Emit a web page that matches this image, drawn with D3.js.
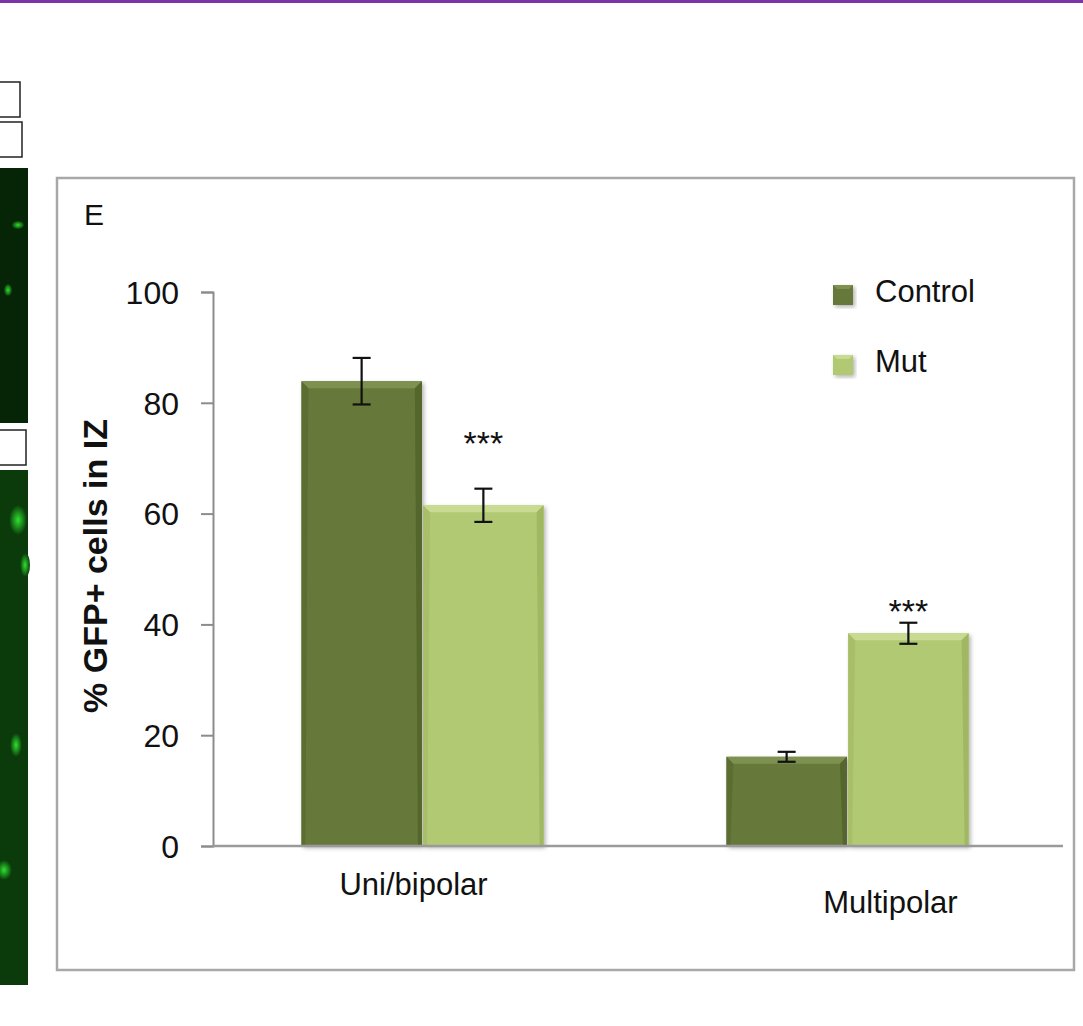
<!DOCTYPE html>
<html>
<head>
<meta charset="utf-8">
<script src="https://cdn.jsdelivr.net/npm/d3@7"></script>
<style>
  html, body { margin: 0; padding: 0; background: #fff; }
  svg { display: block; font-family: "Liberation Sans", Arial, Helvetica, sans-serif; }
  .tick text { font-size: 32px; fill: #111; }
</style>
</head>
<body>
<svg id="chart" width="1083" height="1026"></svg>
<script>
"use strict";

/* ── Data ─────────────────────────────────────────── */
const categories = ["Uni/bipolar", "Multipolar"];
const seriesNames = ["Control", "Mut"];
const controlValues = [83.9, 16.1];
const controlErrors = [4.2, 0.9];
const mutValues = [61.5, 38.4];
const mutErrors = [3.0, 1.9];
const yTicks = [0, 20, 40, 60, 80, 100];
const sigLabels = ["***", "***"];      // Mut vs Control
const sigLevels = [74.2, 43.9];         // value where the stars sit

/* ── Layout ───────────────────────────────────────── */
const W = 1083, H = 1026;
const PLOT = { left: 213, right: 1063, top: 292, bottom: 846 };
const COLORS = {
  Control: { base: "#66793a", light: "#7f9150", dark: "#55662d" },
  Mut:     { base: "#b2c973", light: "#c9db93", dark: "#a1b862" },
};

const svg = d3.select("#chart");
const defs = svg.append("defs");

defs.append("filter").attr("id", "shadow")
  .attr("x", "-10%").attr("y", "-10%").attr("width", "130%").attr("height", "130%")
  .append("feDropShadow")
  .attr("dx", 2).attr("dy", 2).attr("stdDeviation", 2)
  .attr("flood-color", "#000").attr("flood-opacity", 0.3);

/* ── Page decoration (slide edges) ───────────────── */
svg.append("rect").attr("x", 0).attr("y", 0).attr("width", W).attr("height", 3)
  .attr("fill", "#7a35a6");

const side = svg.append("g").attr("class", "side");
const glow = defs.append("radialGradient").attr("id", "glow");
glow.append("stop").attr("offset", "0%").attr("stop-color", "#2fe02f");
glow.append("stop").attr("offset", "100%").attr("stop-color", "#0a3a0a");
side.append("rect").attr("x", -2).attr("y", 82).attr("width", 22).attr("height", 35)
  .attr("fill", "#fff").attr("stroke", "#222").attr("stroke-width", 1.5);
side.append("rect").attr("x", -2).attr("y", 122).attr("width", 24).attr("height", 35)
  .attr("fill", "#fff").attr("stroke", "#222").attr("stroke-width", 1.5);
side.append("rect").attr("x", 0).attr("y", 168).attr("width", 28).attr("height", 255)
  .attr("fill", "#062506");
side.append("rect").attr("x", -2).attr("y", 430).attr("width", 28).attr("height", 35)
  .attr("fill", "#fff").attr("stroke", "#222").attr("stroke-width", 1.5);
side.append("rect").attr("x", 0).attr("y", 470).attr("width", 28).attr("height", 515)
  .attr("fill", "#0b3a0b");
[[18, 520, 9, 15], [25, 565, 5, 12], [16, 745, 6, 12], [4, 870, 8, 10], [8, 290, 4, 6], [18, 225, 6, 4]]
  .forEach(([cx, cy, rx, ry]) => {
    side.append("ellipse").attr("cx", cx).attr("cy", cy).attr("rx", rx).attr("ry", ry)
      .attr("fill", "url(#glow)");
  });

/* ── Chart frame ──────────────────────────────────── */
svg.append("rect")
  .attr("x", 57).attr("y", 178).attr("width", 1017).attr("height", 792)
  .attr("fill", "#fff").attr("stroke", "#a8a8a8").attr("stroke-width", 2.5);

svg.append("text").attr("x", 84).attr("y", 225)
  .attr("font-size", 30).attr("fill", "#111").text("E");

/* ── Scales ──────────────────────────────────────── */
const x0 = d3.scaleBand().domain(categories)
  .range([PLOT.left, PLOT.right]).paddingInner(0.43).paddingOuter(0.215);
const x1 = d3.scaleBand().domain(seriesNames)
  .range([0, x0.bandwidth()]).paddingInner(0.01);
const y = d3.scaleLinear().domain([0, 100]).range([PLOT.bottom, PLOT.top]);

/* ── Axes ────────────────────────────────────────── */
const yAxis = svg.append("g").attr("transform", `translate(${PLOT.left},0)`)
  .call(d3.axisLeft(y).tickValues(yTicks).tickSize(12).tickPadding(22));
yAxis.select(".domain").attr("stroke", "#8c8c8c").attr("stroke-width", 2);
yAxis.selectAll(".tick line").attr("stroke", "#8c8c8c").attr("stroke-width", 2);
yAxis.selectAll(".tick text").attr("dy", "0.35em");

svg.append("text")
  .attr("transform", `translate(107,${(PLOT.top + PLOT.bottom) / 2 - 3}) rotate(-90)`)
  .attr("text-anchor", "middle")
  .attr("font-size", 34).attr("font-weight", "bold").attr("fill", "#111")
  .text("% GFP+ cells in IZ");

/* ── Bars ────────────────────────────────────────── */
const rows = categories.map((c, i) => ({
  cat: c,
  items: [
    { s: "Control", v: controlValues[i], e: controlErrors[i] },
    { s: "Mut", v: mutValues[i], e: mutErrors[i] },
  ],
  sig: sigLabels[i], sigY: sigLevels[i],
}));

const groups = svg.append("g").selectAll("g.grp").data(rows).join("g")
  .attr("class", "grp")
  .attr("transform", (d) => `translate(${x0(d.cat) - 3},0)`);

const bar = groups.selectAll("g.bar").data((d) => d.items).join("g").attr("class", "bar");
const bw = x1.bandwidth();
const bev = 7;

bar.append("rect")
  .attr("x", (d) => x1(d.s)).attr("y", (d) => y(d.v))
  .attr("width", bw).attr("height", (d) => y(0) - y(d.v))
  .attr("fill", (d) => COLORS[d.s].base)
  .attr("filter", "url(#shadow)");
// bevel: top highlight, side shading
bar.append("path")
  .attr("fill", (d) => COLORS[d.s].light)
  .attr("d", (d) => {
    const xl = x1(d.s), xr = xl + bw, yt = y(d.v);
    return `M${xl},${yt}L${xr},${yt}L${xr - bev},${yt + bev}L${xl + bev},${yt + bev}Z`;
  });
bar.append("path")
  .attr("fill", (d) => COLORS[d.s].dark)
  .attr("d", (d) => {
    const xl = x1(d.s), xr = xl + bw, yt = y(d.v), yb = y(0);
    return `M${xr},${yt}L${xr},${yb}L${xr - 4},${yb}L${xr - bev},${yt + bev}Z`;
  });
bar.append("path")
  .attr("fill", (d) => COLORS[d.s].dark).attr("opacity", 0.6)
  .attr("d", (d) => {
    const xl = x1(d.s), yt = y(d.v), yb = y(0);
    return `M${xl},${yt}L${xl + bev},${yt + bev}L${xl + 4},${yb}L${xl},${yb}Z`;
  });

/* ── Error bars ──────────────────────────────────── */
const cap = 9;
const err = bar.append("g").attr("stroke", "#111").attr("stroke-width", 2.2);
err.append("line")
  .attr("x1", (d) => x1(d.s) + bw / 2).attr("x2", (d) => x1(d.s) + bw / 2)
  .attr("y1", (d) => y(d.v + d.e)).attr("y2", (d) => y(d.v - d.e));
err.append("line")
  .attr("x1", (d) => x1(d.s) + bw / 2 - cap).attr("x2", (d) => x1(d.s) + bw / 2 + cap)
  .attr("y1", (d) => y(d.v + d.e)).attr("y2", (d) => y(d.v + d.e));
err.append("line")
  .attr("x1", (d) => x1(d.s) + bw / 2 - cap).attr("x2", (d) => x1(d.s) + bw / 2 + cap)
  .attr("y1", (d) => y(d.v - d.e)).attr("y2", (d) => y(d.v - d.e));

/* significance stars over the Mut bar */
groups.append("text")
  .attr("x", x1("Mut") + bw / 2)
  .attr("y", (d) => y(d.sigY))
  .attr("dy", "0.6em")
  .attr("text-anchor", "middle")
  .attr("font-size", 34).attr("fill", "#111")
  .text((d) => d.sig);

/* ── X axis ──────────────────────────────────────── */
svg.append("line")
  .attr("x1", PLOT.left).attr("x2", PLOT.right)
  .attr("y1", y(0)).attr("y2", y(0))
  .attr("stroke", "#9a9a9a").attr("stroke-width", 2.5);

svg.append("g").selectAll("text").data(categories).join("text")
  .attr("x", (d, i) => x0(d) + x0.bandwidth() / 2 + (i === 0 ? -12 : 40))
  .attr("y", (d, i) => y(0) + (i === 0 ? 49 : 67))
  .attr("text-anchor", "middle")
  .attr("font-size", 31).attr("fill", "#111")
  .text((d) => d);

/* ── Legend ──────────────────────────────────────── */
const legend = svg.append("g").attr("transform", "translate(833,285)");
const li = legend.selectAll("g").data(seriesNames).join("g")
  .attr("transform", (d, i) => `translate(0,${i * 70})`);
li.append("rect").attr("width", 20).attr("height", 20)
  .attr("fill", (d) => COLORS[d].base).attr("filter", "url(#shadow)");
li.append("path").attr("fill", (d) => COLORS[d].light)
  .attr("d", "M0,0L20,0L16,4L4,4Z");
li.append("text").attr("x", 42).attr("y", 17)
  .attr("font-size", 31).attr("fill", "#111")
  .text((d) => d);
</script>
</body>
</html>
